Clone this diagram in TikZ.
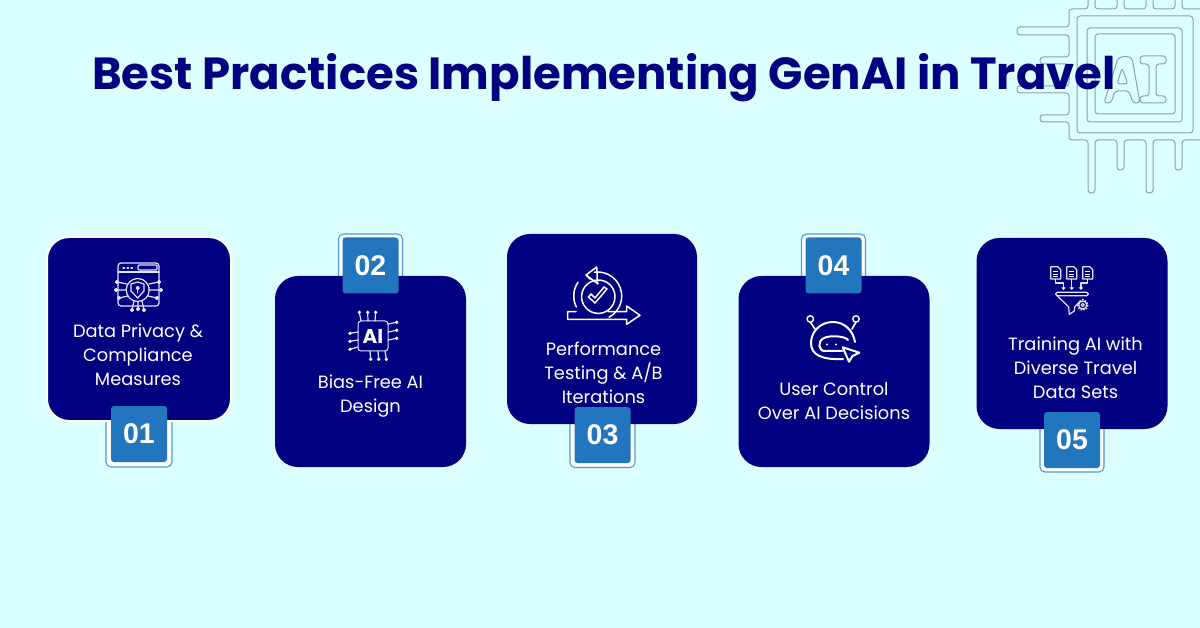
\documentclass[tikz,border=0pt]{standalone}
\usepackage{xcolor}
\usepackage{fontspec}
\setmainfont{Poppins}
\newfontfamily\numfont{Liberation Sans}

\definecolor{pagebg}{HTML}{DCFFFF}
\definecolor{navycard}{HTML}{000080}
\definecolor{badgeblue}{HTML}{2176BD}
\definecolor{ringblue}{HTML}{4E9AD6}
\definecolor{chipline}{HTML}{88A3AA}
\definecolor{iconline}{HTML}{E4E4F6}

\tikzset{
    card/.style={fill=navycard, rounded corners=22pt, minimum size=#1, inner sep=0pt, line width=2pt},
    badge/.style={fill=badgeblue, rounded corners=3pt, minimum size=56pt, inner sep=0pt,
        text=white, font=\numfont\bfseries\fontsize{28.5}{28.5}\selectfont},
    badgering/.style={draw=ringblue, fill=white, line width=1.1pt, rounded corners=5pt,
        minimum size=#1, inner sep=0pt},
    cardtext/.style={text=white, align=center, inner sep=0pt,
        font=\fontsize{17.8}{24}\selectfont},
    chip/.style={draw=chipline, line width=1pt, rounded corners=3pt},
    icon/.style={draw=iconline, line width=1.2pt, line join=round, line cap=round},
    iconbold/.style={draw=white, line width=1.5pt, line join=round, line cap=round},
}

\begin{document}
\begin{tikzpicture}[x=1pt, y=-1pt]
    \fill [pagebg] (0, 0) rectangle (1200, 628);
    \useasboundingbox (0, 0) rectangle (1200, 628);

    % chip in the corner
    \begin{scope}
        \clip (0, 0) rectangle (1200, 628);
        \draw [chip] (1210, 9) -- (1182, 9) -- (1182, -5) (1175, -5) -- (1175, 9) -- (1153, 9) -- (1153, -5)
            (1146, -5) -- (1146, 9) -- (1124, 9) -- (1124, -5) (1117, -5) -- (1117, 9) -- (1095, 9) -- (1095, -5)
            (1088, -5) -- (1088, 9) -- (1069, 9) -- (1069, 27) -- (1017, 27) -- (1017, 35) -- (1069, 35)
            -- (1069, 57) -- (1040, 57) -- (1040, 64) -- (1069, 64) -- (1069, 86) -- (1017, 86) -- (1017, 93)
            -- (1069, 93) -- (1069, 115) -- (1040, 115) -- (1040, 122) -- (1069, 122) -- (1069, 140)
            -- (1088, 140) -- (1088, 193) -- (1095, 193) -- (1095, 140) -- (1117, 140) -- (1117, 170)
            -- (1124, 170) -- (1124, 140) -- (1146, 140) -- (1146, 193) -- (1153, 193) -- (1153, 140)
            -- (1175, 140) -- (1175, 170) -- (1182, 170) -- (1182, 140) -- (1210, 140);
        \draw [chip] (1077, 16) rectangle (1193, 133);
        \draw [chip] (1087, 28) rectangle (1182, 122);
        \draw [chip] (1095, 34) rectangle (1175, 114);
        % letters
        \draw [chip] (1104, 103) -- (1118, 58) -- (1126, 56) -- (1132, 58) -- (1140, 103) -- (1133, 103)
            -- (1129, 91) -- (1115, 91) -- (1111, 103) -- cycle;
        \draw [chip] (1117, 84) -- (1128, 84) -- (1122, 68) -- cycle;
        \draw [chip] (1140, 56) -- (1166, 56) -- (1166, 64) -- (1156, 64) -- (1156, 96) -- (1166, 96)
            -- (1166, 103) -- (1140, 103) -- (1140, 96) -- (1149, 96) -- (1149, 64) -- (1140, 64) -- cycle;
    \end{scope}

    % title
    \node (title) [text=navycard, inner sep=0pt, font=\bfseries\fontsize{45}{50}\selectfont]
        at (604, 78) {Best Practices Implementing GenAI in Travel};

    % cards with their number badges
    \foreach \name/\cx/\cy/\size/\edge/\bx/\by/\ring/\ry/\lift/\num in {
        a/139/329/184/white/139/434/66/434/1/01,
        b/370.5/371.5/189/navycard/370.5/265.5/64/266/-0.8/02,
        c/602/329/188/navycard/602.5/435/65/435/1.6/03,
        d/834/371.5/189/navycard/833.5/265.5/64/266/-0.8/04,
        e/1072/333.5/189/navycard/1072/440/64/440/1.6/05} {
        \node (ring\name) [badgering=\ring pt] at (\bx, \ry) {};
        \node (card\name) [card=\size pt, draw=\edge] at (\cx, \cy) {};
        \node (badge\name) [badge] at (\bx, \by) {\raisebox{\lift pt}{\num}};
    }

    % card labels
    \node (texta) [cardtext] at (138, 355) {Data Privacy \&\\Compliance\\Measures};
    \node (textb) [cardtext] at (370.5, 396) {Bias-Free AI\\Design};
    \node (textc) [cardtext] at (603.5, 373) {Performance\\Testing \& A/B\\Iterations};
    \node (textd) [cardtext] at (834, 401) {User Control\\Over AI Decisions};
    \node (texte) [cardtext] at (1075.5, 368) {Training AI with\\Diverse Travel\\Data Sets};

    % icon 1, browser and shield
    \draw [icon, rounded corners=3pt] (118, 263) rectangle (159, 306);
    \draw [icon] (118, 272) -- (159, 272);
    \draw [icon, rounded corners=1pt] (138, 265) rectangle (157, 270);
    \foreach \x in {123, 127, 131}
        \draw [icon] (\x, 268) -- (\x + 1.5, 268);
    \draw [icon, fill=navycard] (137.7, 290) circle [radius=11.5];
    \draw [icon] (131, 284) -- (137.7, 282) -- (144, 284) -- (144, 291) -- (137.7, 298) -- (131, 291) -- cycle;
    \draw [icon, fill=iconline] (137.7, 288) circle [radius=1.5];
    \draw [icon] (137.7, 288) -- (137.7, 293);
    \foreach \x/\y/\ex/\ey in {117/282/127/284, 116/290/126/290, 119/298/128/296,
        159/282/149/284, 161/290/149/290, 157/298/148/296,
        132/310/134/301, 138/309/138/302, 144/310/142/301}
        \draw [icon, fill=navycard] (\x, \y) -- (\ex, \ey) (\x, \y) circle [radius=1.5];

    % icon 2, chip
    \foreach \x/\y/\ex/\ey in {359.3/312.3/361/321, 367.7/312.3/368/321, 375.7/312.3/375/321,
        370.7/359.3/370/351, 378.7/359.3/378/351, 386.3/359.3/385/351,
        350/333.3/358/332, 350/341.3/358/340, 350/349.3/358/347,
        396.7/322.3/388/324, 396.7/330.3/388/332, 396.7/338.3/388/340} {
        \draw [icon] (\x, \y) -- (\ex, \ey);
        \fill [white] (\x, \y) circle [radius=1.8];
    }
    \node (chipb) [draw=iconline, line width=1pt, rounded corners=3pt, minimum size=30pt, inner sep=0pt,
        text=white, font=\bfseries\fontsize{20}{20}\selectfont] at (373, 336) {AI};

    % icon 3, loop and arrow
    \coordinate (loopc) at (597.7, 296);
    \draw [iconbold] (loopc) ++(98:24pt) arc [start angle=98, end angle=-62, radius=24pt];
    \draw [iconbold] (loopc) ++(145:24pt) arc [start angle=145, end angle=207, radius=24pt];
    \draw [iconbold] (598.3, 296.7) ++(120:16.7pt) arc [start angle=120, end angle=-240, radius=16.7pt];
    \draw [iconbold] (596.7, 267) -- (586, 275) -- (590, 279) (586, 275) -- (598, 284) -- (597, 279.5) -- (597, 272) -- (596.7, 267);
    \draw [iconbold] (588.5, 297) -- (595, 303) -- (607, 289) -- (604, 287) -- (595, 298) -- (591, 294) -- cycle;
    \draw [iconbold] (576, 311.7) -- (567.7, 311.7) -- (567.7, 319.3) -- (626.7, 319.3) -- (626.7, 324.3)
        -- (640, 315.3) -- (626.7, 306) -- (626.7, 311.7) -- (608, 311.7);

    % icon 4, bot with cursor
    \draw [iconbold, line width=2pt] (855, 342) .. controls (853, 330) and (844, 322) .. (833, 322)
        .. controls (819, 322) and (811, 333) .. (811, 343) .. controls (811, 355) and (822, 360) .. (843, 359);
    \draw [iconbold, line width=1.7pt] (815, 329) -- (810.3, 322) (852, 329) -- (856, 322);
    \draw [iconbold, line width=1.4pt] (810.3, 319) circle [radius=3.2] (856, 319) circle [radius=3.2];
    \draw [iconbold, line width=2pt] (848, 340) .. controls (845, 336) and (830, 335) .. (824, 338)
        .. controls (817, 341) and (818, 352) .. (826, 351) -- (842, 351);
    \draw [iconbold, line width=2pt] (842.7, 347.3) -- (859.3, 352.7) -- (852.5, 356) -- (849, 361.7) -- cycle;
    \foreach \x in {827, 836}
        \fill [white] (\x, 344.5) circle [radius=1.1];

    % icon 5, documents and funnel
    \foreach \x in {1050.7, 1066.7, 1082.7} {
        \draw [icon, fill=navycard] (\x, 266.7) -- (\x + 7, 266.7) -- (\x + 10, 269.7) -- (\x + 10, 279) -- (\x, 279) -- cycle;
        \foreach \y in {271, 274, 276.5}
            \draw [white, line width=0.9pt] (\x + 2, \y) -- (\x + 7.5, \y);
    }
    \draw [icon] (1055.7, 279) -- (1055.7, 283) -- (1063.5, 283) -- (1063.5, 288);
    \draw [icon] (1071.7, 279) -- (1071.7, 288);
    \draw [icon] (1087.7, 279) -- (1087.7, 283) -- (1081, 283) -- (1081, 288);
    \foreach \x in {1063.5, 1071.7, 1081}
        \fill [white] (\x - 2.2, 287.5) -- (\x + 2.2, 287.5) -- (\x, 290) -- cycle;
    \draw [icon, rounded corners=1.5pt] (1055.7, 292.3) rectangle (1088.3, 295.7);
    \draw [icon] (1057, 295.7) -- (1068.6, 306.7) -- (1069.3, 314.3) -- (1074.3, 311) -- (1074.8, 306.7) -- (1080, 301.5);
    \draw [icon, fill=navycard] (1082.7, 305) circle [radius=4];
    \draw [icon, dash pattern=on 1.4pt off 1.4pt, line cap=butt, line width=1.8pt] (1082.7, 305) circle [radius=5];
    \draw [icon] (1082.7, 305) circle [radius=1.6];
\end{tikzpicture}
\end{document}
